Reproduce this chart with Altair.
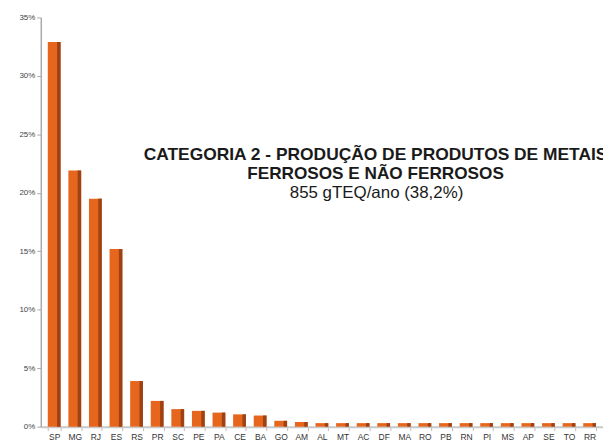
import altair as alt
import pandas as pd

states = ["SP", "MG", "RJ", "ES", "RS", "PR", "SC", "PE", "PA", "CE", "BA", "GO", "AM",
          "AL", "MT", "AC", "DF", "MA", "RO", "PB", "RN", "PI", "MS", "AP", "SE", "TO", "RR"]
shares = [32.9, 21.9, 19.5, 15.2, 3.9, 2.2, 1.5, 1.35, 1.2, 1.05, 0.95, 0.5, 0.4,
          0.3, 0.3, 0.3, 0.3, 0.3, 0.3, 0.3, 0.3, 0.3, 0.3, 0.3, 0.3, 0.3, 0.3]
y_ticks = [0, 5, 10, 15, 20, 25, 30, 35]
title_line1 = "CATEGORIA 2 - PRODUÇÃO DE PRODUTOS DE METAIS"
title_line2 = "FERROSOS E NÃO FERROSOS"
subtitle = "855 gTEQ/ano (38,2%)"

df = pd.DataFrame({"estado": states, "pct": shares})

FONT = "Liberation Sans"

x = alt.X("estado:N", sort=states, title=None,
          scale=alt.Scale(paddingInner=0.38, paddingOuter=0.34),
          axis=alt.Axis(labelAngle=0, labelFontSize=8.5, labelColor="#333333", labelFont=FONT,
                        labelPadding=2, tickBand="extent", tickColor="#bbbbbb", tickSize=4,
                        domainColor="#c8c8c8", domainWidth=2))
y = alt.Y("pct:Q", title=None,
          scale=alt.Scale(domain=[0, 35], nice=False),
          axis=alt.Axis(values=y_ticks, labelExpr="datum.value + '%'", labelFontSize=8,
                        labelColor="#444444", labelFont=FONT, grid=False,
                        tickColor="#aaaaaa", tickSize=4, labelPadding=2,
                        domainColor="#aaaaaa", domainWidth=1.5))

bars = alt.Chart(df).mark_bar(color="#E5661C").encode(x=x, y=y)
side = alt.Chart(df).mark_bar(color="#9E4216", size=3.5, xOffset=4.7).encode(x=x, y=y)

tdf = pd.DataFrame({"t": [title_line1]})
t2df = pd.DataFrame({"t": [title_line2]})
t3df = pd.DataFrame({"t": [subtitle]})

t1 = alt.Chart(tdf).mark_text(font=FONT, fontSize=17.5, fontWeight="bold", color="#1a1a1a",
                              align="center", baseline="middle").encode(
    text="t:N", x=alt.value(337), y=alt.value(139))
t2 = alt.Chart(t2df).mark_text(font=FONT, fontSize=17.3, fontWeight="bold", color="#1a1a1a",
                               align="center", baseline="middle").encode(
    text="t:N", x=alt.value(337), y=alt.value(158))
t3 = alt.Chart(t3df).mark_text(font=FONT, fontSize=17, color="#1a1a1a",
                               align="center", baseline="middle").encode(
    text="t:N", x=alt.value(338), y=alt.value(177))

chart = alt.layer(bars, side, t1, t2, t3).properties(
    width=566, height=412,
    autosize=alt.AutoSizeParams(type="none"),
    padding={"left": 33, "top": 8, "right": 0, "bottom": 14},
    background="#ffffff",
).configure_view(stroke=None)

chart.save("out.html", embed_options={"renderer": "svg", "actions": False})
